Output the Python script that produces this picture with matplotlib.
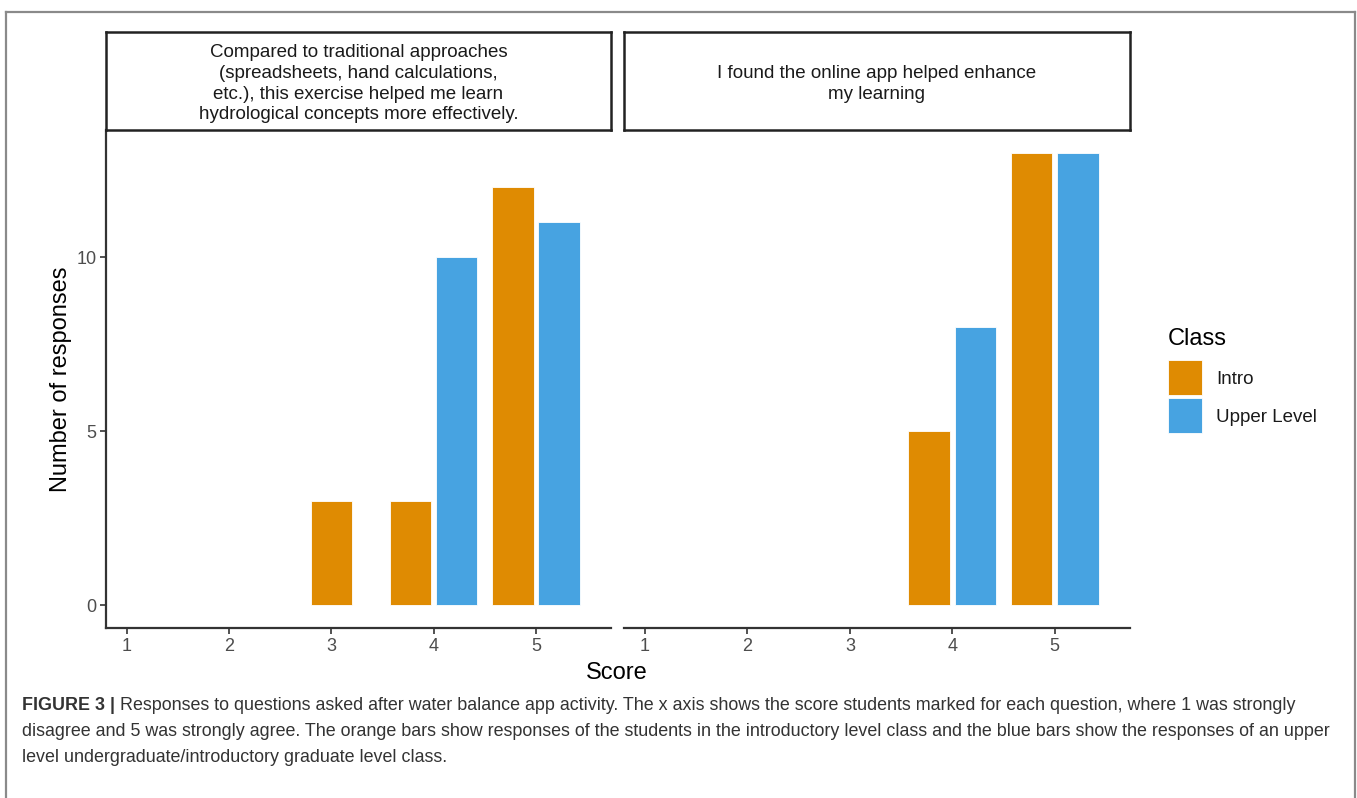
import numpy as np
import matplotlib
matplotlib.use("Agg")
import matplotlib.pyplot as plt
from matplotlib.lines import Line2D
from matplotlib.patches import Rectangle

plt.rcParams['font.family'] = ['Liberation Sans', 'DejaVu Sans']

# Datos
scores = [1, 2, 3, 4, 5]
q1_intro = [0, 0, 3, 3, 12]
q1_upper = [0, 0, 0, 10, 11]
q2_intro = [0, 0, 0, 5, 13]
q2_upper = [0, 0, 0, 8, 13]
classes = ["Intro", "Upper Level"]
colors = ["#DF8B02", "#47A3E1"]
strips = ["Compared to traditional approaches\n(spreadsheets, hand calculations,\n"
          "etc.), this exercise helped me learn\nhydrological concepts more effectively.",
          "I found the online app helped enhance\nmy learning"]
caption_bold = "FIGURE 3 |"
caption_lines = [
    " Responses to questions asked after water balance app activity. The x axis shows the score students marked for each question, where 1 was strongly",
    "disagree and 5 was strongly agree. The orange bars show responses of the students in the introductory level class and the blue bars show the responses of an upper",
    "level undergraduate/introductory graduate level class.",
]

W, H = 1357, 798
fig = plt.figure(figsize=(W / 100, H / 100), dpi=100)

def px_axes(x0, y0, x1, y1):
    return fig.add_axes([x0 / W, 1 - y1 / H, (x1 - x0) / W, (y1 - y0) / H])

# Marco exterior
for xs, ys in [([6, 6], [12, 798]), ([6, 1355], [12, 12]), ([1355, 1355], [12, 798])]:
    fig.add_artist(Line2D([x / W for x in xs], [1 - y / H for y in ys],
                          color="#8a8a8a", lw=1.6, transform=fig.transFigure))

panels = [(106, 611, q1_intro, q1_upper, strips[0]),
          (624, 1130, q2_intro, q2_upper, strips[1])]

width = 0.405
for i, (x0, x1, intro, upper, title) in enumerate(panels):
    ax = px_axes(x0, 130, x1, 628)
    for s, a, b in zip(scores, intro, upper):
        vals = [(a, colors[0]), (b, colors[1])]
        present = [(v, c) for v, c in vals if v > 0]
        offs = [0.0] if len(present) == 1 else [-0.225, 0.225]
        for (v, c), o in zip(present, offs):
            ax.bar(s + o, v, width=width, color=c, edgecolor="white", linewidth=0.6)
    ax.set_xlim(0.795, 5.735)
    ax.set_ylim(-0.65, 13.65)
    ax.set_xticks(scores)
    ax.set_yticks([0, 5, 10])
    for sp in ["top", "right"]:
        ax.spines[sp].set_visible(False)
    ax.spines["bottom"].set_linewidth(1.6)
    ax.spines["bottom"].set_color("#333333")
    ax.tick_params(axis="both", length=4, width=1.2, color="#333333",
                   labelsize=13, labelcolor="#4D4D4D", pad=3)
    if i == 0:
        ax.spines["left"].set_linewidth(1.6)
        ax.spines["left"].set_color("#333333")
        ax.set_ylabel("Number of responses", fontsize=17, labelpad=3)
    else:
        ax.spines["left"].set_visible(False)
        ax.tick_params(axis="y", left=False, labelleft=False)

    sx = px_axes(x0, 32, x1, 130)
    sx.set_xticks([])
    sx.set_yticks([])
    for sp in sx.spines.values():
        sp.set_linewidth(1.8)
        sp.set_color("#222222")
    sx.text(0.5, 0.47, title, ha="center", va="center", fontsize=13.5,
            linespacing=1.28, color="#1A1A1A", transform=sx.transAxes)

fig.text(617 / W, 1 - 673 / H, "Score", ha="center", va="center", fontsize=17)

# Leyenda
fig.text(1168 / W, 1 - 339 / H, "Class", ha="left", va="center", fontsize=17)
for k, (lab, c) in enumerate(zip(classes, colors)):
    y0 = 360 + k * 38
    fig.add_artist(Rectangle((1168 / W, 1 - (y0 + 35) / H), 34 / W, 35 / H,
                             facecolor=c, edgecolor="white", lw=0.6,
                             transform=fig.transFigure))
    fig.text(1216 / W, 1 - (y0 + 20) / H, lab, ha="left", va="center",
             fontsize=13.5, color="#1A1A1A")

# Pie de figura
cap_y = [705, 731, 757]
cap_fs = 12.9
t0 = fig.text(22 / W, 1 - cap_y[0] / H, caption_bold, ha="left", va="center",
              fontsize=cap_fs, fontweight="bold", color="#333333")
fig.canvas.draw()
bb = t0.get_window_extent()
fig.text(bb.x1 / W, 1 - cap_y[0] / H, caption_lines[0], ha="left", va="center",
         fontsize=cap_fs, color="#333333")
for yy, line in zip(cap_y[1:], caption_lines[1:]):
    fig.text(22 / W, 1 - yy / H, line, ha="left", va="center",
             fontsize=cap_fs, color="#333333")

plt.savefig("out.png", dpi=100)
